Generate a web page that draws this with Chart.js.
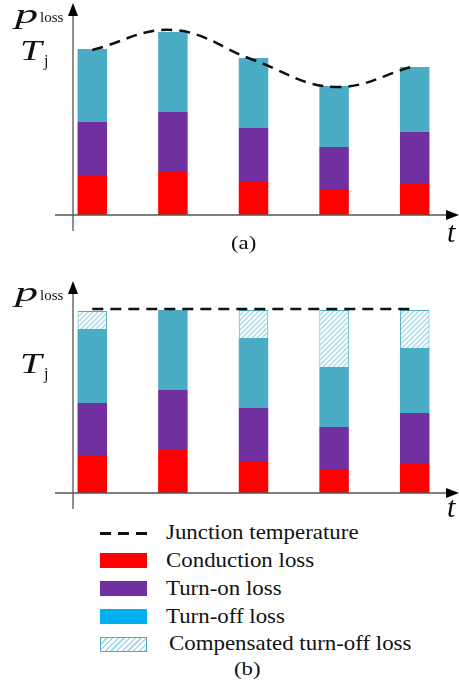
<!DOCTYPE html>
<html>
<head>
<meta charset="utf-8">
<script src="https://cdn.jsdelivr.net/npm/chart.js@4/dist/chart.umd.min.js"></script>
<style>
  body { margin: 0; background: #fff; }
  #wrap { position: relative; width: 459px; height: 685px; overflow: hidden; color: #111; }
  #wrap div { font-family: "Liberation Serif", "Times New Roman", Tinos, "DejaVu Serif", serif; }
  canvas { position: absolute; left: 0; }
  .lbl { position: absolute; line-height: 1; white-space: nowrap; transform-origin: left top; }
  .it { font-style: italic; }
  .wp { transform: scaleX(1.65); }
  .wt { transform: scaleX(1.35); }
  .wc { transform: scaleX(1.2); }
  .sw { position: absolute; left: 100px; width: 47px; height: 15px; }
  .lg { position: absolute; left: 166px; font-size: 21px; line-height: 1; white-space: nowrap; transform: scaleX(1.09); transform-origin: left top; }
</style>
</head>
<body>
<div id="wrap">
  <canvas id="chartA" width="459" height="260" style="top:0"></canvas>
  <canvas id="chartB" width="459" height="255" style="top:265px"></canvas>

  <div class="lbl it wp" style="left:15px;top:0px;font-size:28px">p</div>
  <div class="lbl" style="left:40px;top:10px;font-size:15px">loss</div>
  <div class="lbl it wt" style="left:20px;top:36px;font-size:29px">T</div>
  <div class="lbl" style="left:44px;top:53px;font-size:16px">j</div>
  <div class="lbl it" style="left:447px;top:217px;font-size:30px">t</div>
  <div class="lbl wc" style="left:231px;top:233px;font-size:19px">(a)</div>

  <div class="lbl it wp" style="left:15px;top:278px;font-size:28px">p</div>
  <div class="lbl" style="left:40px;top:288px;font-size:15px">loss</div>
  <div class="lbl it wt" style="left:20px;top:349px;font-size:29px">T</div>
  <div class="lbl" style="left:44px;top:366px;font-size:16px">j</div>
  <div class="lbl it" style="left:447px;top:492px;font-size:30px">t</div>

  <div class="sw" style="top:532px;height:2.5px;background:repeating-linear-gradient(90deg,#111 0 11px,transparent 11px 18px)"></div>
  <div class="lg" style="top:522px">Junction temperature</div>
  <div class="sw" style="top:553px;background:#ff0000"></div>
  <div class="lg" style="top:550px">Conduction loss</div>
  <div class="sw" style="top:581px;background:#7030a0"></div>
  <div class="lg" style="top:578px">Turn-on loss</div>
  <div class="sw" style="top:609px;background:#00b0f0"></div>
  <div class="lg" style="top:606px">Turn-off loss</div>
  <div class="sw" style="top:637px;box-sizing:border-box;border:1px solid #4bacc6;background:repeating-linear-gradient(-45deg,#a8dbea 0 1.5px,#fff 1.5px 4px)"></div>
  <div class="lg" style="top:633px;left:169px">Compensated turn-off loss</div>
  <div class="lbl wc" style="left:234px;top:659px;font-size:19px">(b)</div>
</div>

<script>
// five switching periods
const periods = ['1', '2', '3', '4', '5'];

// (a) without compensation
const condA = [39, 44, 34, 26, 32];
const turnOnA = [54, 59, 53, 42, 51];
const turnOffA = [73, 80, 70, 61, 65];
const tjA = [165, 185, 155, 128, 149];

// (b) with compensated turn-off loss
const condB = [38, 43, 32, 24, 30];
const turnOnB = [52, 60, 53, 42, 50];
const turnOffB = [74, 80, 70, 60, 65];
const compB = [18, null, 28, 57, 38];
const tjB = [184, 184, 184, 184, 184];

const RED = '#ff0000';
const PURPLE = '#7030a0';
const CYAN = '#4bacc6';

function hatch() {
  const c = document.createElement('canvas');
  c.width = 5; c.height = 5;
  const g = c.getContext('2d');
  g.fillStyle = '#fff';
  g.fillRect(0, 0, 5, 5);
  g.strokeStyle = '#a8dbea';
  g.lineWidth = 1.5;
  g.beginPath();
  g.moveTo(-1, 6); g.lineTo(6, -1);
  g.moveTo(-1, 1); g.lineTo(1, -1);
  g.moveTo(4, 6); g.lineTo(6, 4);
  g.stroke();
  return g.createPattern(c, 'repeat');
}

// arrow axes drawn by hand, placed from the chart's own scales
const arrowAxes = {
  id: 'arrowAxes',
  afterDraw(chart) {
    const { ctx, chartArea } = chart;
    const base = chart.scales.y.getPixelForValue(0);
    const ax = chartArea.left + 21;
    ctx.save();
    ctx.strokeStyle = '#555';
    ctx.lineWidth = 1.3;
    ctx.beginPath();
    ctx.moveTo(ax, base + 16);
    ctx.lineTo(ax, chartArea.top - 4);
    ctx.moveTo(chartArea.left + 3, base);
    ctx.lineTo(chartArea.right - 6, base);
    ctx.stroke();
    ctx.fillStyle = '#000';
    ctx.beginPath();
    ctx.moveTo(ax, chartArea.top - 12);
    ctx.lineTo(ax - 5, chartArea.top + 1);
    ctx.lineTo(ax + 5, chartArea.top + 1);
    ctx.closePath();
    ctx.fill();
    ctx.beginPath();
    ctx.moveTo(chartArea.right + 4, base);
    ctx.lineTo(chartArea.right - 9, base - 5);
    ctx.lineTo(chartArea.right - 9, base + 5);
    ctx.closePath();
    ctx.fill();
    ctx.restore();
  }
};

function bars(label, data, color, extra) {
  return Object.assign({
    type: 'bar', label, data, backgroundColor: color,
    borderWidth: 0, barPercentage: 0.366, categoryPercentage: 1, order: 2
  }, extra || {});
}

function tjLine(data, tension) {
  return {
    type: 'line', label: 'Junction temperature', data, yAxisID: 'y2',
    borderColor: '#111', borderWidth: 2.5, borderDash: [11, 7],
    tension, fill: false, order: 1
  };
}

function makeChart(id, datasets, pad) {
  return new Chart(document.getElementById(id), {
    data: { labels: periods, datasets },
    options: {
      responsive: false,
      animation: false,
      layout: { padding: pad },
      plugins: { legend: { display: false }, tooltip: { enabled: false } },
      elements: { point: { radius: 0 } },
      scales: {
        x: { stacked: true, display: false },
        y: { stacked: true, display: false, min: 0, max: 200 },
        y2: { display: false, min: 0, max: 200 }
      }
    },
    plugins: [arrowAxes]
  });
}

makeChart('chartA', [
  bars('Conduction loss', condA, RED),
  bars('Turn-on loss', turnOnA, PURPLE),
  bars('Turn-off loss', turnOffA, CYAN),
  tjLine(tjA, 0.4)
], { left: 52, right: 4, top: 15, bottom: 45 });

makeChart('chartB', [
  bars('Conduction loss', condB, RED),
  bars('Turn-on loss', turnOnB, PURPLE),
  bars('Turn-off loss', turnOffB, CYAN),
  bars('Compensated turn-off loss', compB, hatch(), { borderColor: CYAN, borderWidth: 1 }),
  tjLine(tjB, 0)
], { left: 52, right: 4, top: 28, bottom: 27 });
</script>
</body>
</html>
